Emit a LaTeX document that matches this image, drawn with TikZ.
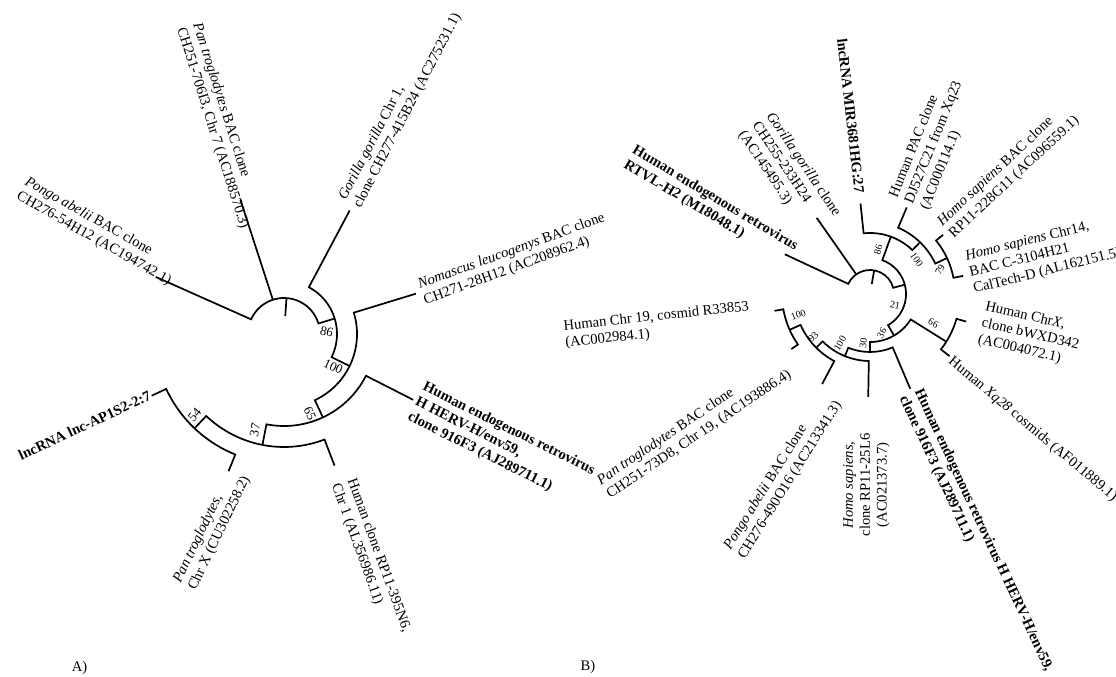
\documentclass[tikz,border=0pt]{standalone}
\usepackage{fontspec}
\setmainfont{Liberation Serif}
\newcommand\labfont{\fontsize{14.6}{16.8}\selectfont}
\newcommand\bsafont{\fontsize{13}{15}\selectfont}
\newcommand\bsbfont{\fontsize{10}{12}\selectfont}
\tikzset{
  br/.style={line width=1.7pt},
  lab/.style={font=\labfont, align=left, inner sep=0pt, anchor=west},
  blab/.style={lab, font=\labfont\bfseries},
  bsa/.style={font=\bsafont, inner sep=0pt},
  bsb/.style={font=\bsbfont, inner sep=0pt},
}
\begin{document}
\begin{tikzpicture}[x=1pt,y=1pt]
\useasboundingbox (0,0) rectangle (1116,-677);
% ---------------- Tree A ----------------
\begin{scope}[shift={(284,-334)}, br]
  \draw (156:140) coordinate (pongoA) -- (156:36) arc[start angle=156, end angle=17, radius=36] -- (17:53);
  \draw (108:36) -- (108:141) coordinate (panA7);
  \draw (86:36) -- (86:18) coordinate (rootA);
  \draw (62:140) coordinate (gorA) -- (62:53) arc[start angle=62, end angle=-26, radius=53] -- (-26:73);
  \draw (17:138) coordinate (nomA) -- (17:73) arc[start angle=17, end angle=-65, radius=73] -- (-65:92);
  \draw (-27:145) coordinate (hervA) -- (-27:92) arc[start angle=-27, end angle=-101, radius=92] -- (-101:113);
  \draw (-69:141) coordinate (humA) -- (-69:113) arc[start angle=-69, end angle=-133.5, radius=113] -- (-133.5:130);
  \draw (-112:148) coordinate (panAX) -- (-112:130) arc[start angle=-112, end angle=-155, radius=130] -- (-155:146) coordinate (lncA);
\end{scope}
\node[bsa, rotate=-15] (bA86) at (326.7,-331.7) {86};
\node[bsa, rotate=-25] (bA100) at (333.3,-366.7) {100};
\node[bsa, rotate=-65] (bA65) at (310,-413.3) {65};
\node[bsa, rotate=79] (bA37) at (255,-430) {37};
\node[bsa, rotate=50] (bA54) at (194.6,-415) {54};

\node[lab, rotate=-29.5] (tPongoA) at (21.5,-188.3) {\textit{Pongo abelii} BAC clone\\CH276-54H12 (AC194742.1)};
\node[lab, rotate=-72.3] (tPanA7) at (188.4,-25.8) {\textit{Pan troglodytes} BAC clone\\CH251-706I3, Chr 7 (AC188570.3)};
\node[lab, rotate=62.5] (tGorA) at (350,-203.3) {\textit{Gorilla gorilla} Chr 1,\\clone CH277-415B24 (AC275231.1)};
\node[lab, rotate=20] (tNomA) at (421.4,-293.3) {\textit{Nomascus leucogenys} BAC clone\\CH271-28H12 (AC208962.4)};
\node[blab, rotate=-26.5] (tHervA) at (416,-401.7) {Human endogenous retrovirus\\H HERV-H/env59,\\clone 916F3 (AJ289711.1)};
\node[lab, rotate=-70] (tHumA) at (342.9,-481.7) {Human clone RP11-395N6,\\Chr 1 (AL356986.11)};
\node[lab, rotate=64.3] (tPanAX) at (184.9,-585.8) {\textit{Pan troglodytes},\\Chr X (CU302258.2)};
\node[blab, anchor=east, rotate=25] (tLncA) at (150,-395) {lncRNA lnc-AP1S2-2:7};
\node[font=\labfont, inner sep=0pt] (labA) at (79.5,-667.5) {A)};

% ---------------- Tree B ----------------
\begin{scope}[shift={(870,-294)}, br]
  \draw (155:94) coordinate (rtvl) -- (155:24) arc[start angle=155, end angle=15, radius=24] -- (15:36);
  \draw (125:24) -- (125:93) coordinate (gorB);
  \draw (80:24) -- (80:10) coordinate (rootB);
  \draw (70:61) -- (70:36) arc[start angle=70, end angle=-60, radius=36] -- (-60:48);
  \draw (96:91) coordinate (mir) -- (96:61) arc[start angle=96, end angle=46, radius=61] -- (46:72);
  \draw (67:94) coordinate (pac) -- (67:72) arc[start angle=67, end angle=25, radius=72] -- (25:85);
  \draw (39:94) coordinate (rp228) -- (39:85) arc[start angle=39, end angle=11, radius=85] -- (11:95) coordinate (chr14);
  \draw (-32:90) -- (-32:48) arc[start angle=-32, end angle=-90, radius=48] -- (-90:58);
  \draw (-16:100) coordinate (chrX) -- (-16:90) arc[start angle=-16, end angle=-38, radius=90] -- (-38:101) coordinate (xq28);
  \draw (-67:103) coordinate (hervB) -- (-67:58) arc[start angle=-67, end angle=-112, radius=58] -- (-112:67);
  \draw (-91:103) coordinate (rp25) -- (-91:67) arc[start angle=-91, end angle=-135, radius=67] -- (-135:76);
  \draw (-118:102) coordinate (pongoB) -- (-118:76) arc[start angle=-118, end angle=-156, radius=76] -- (-156:88);
  \draw (-145:96) coordinate (panB) -- (-145:88) arc[start angle=-145, end angle=-170, radius=88] -- (-170:97) coordinate (chr19);
\end{scope}
\node[bsb, rotate=-10] (bB21) at (895,-305) {21};
\node[bsb, rotate=75] (bB86) at (878.3,-250) {86};
\node[bsb, rotate=-55] (bB100r) at (916.7,-260) {100};
\node[bsb, rotate=60] (bB79) at (940,-270) {79};
\node[bsb, rotate=-27] (bB66) at (933.3,-323.3) {66};
\node[bsb, rotate=60] (bB36) at (881.7,-333.3) {36};
\node[bsb, rotate=85] (bB30) at (863.3,-343.3) {30};
\node[bsb, rotate=60] (bB100m) at (840,-343.3) {100};
\node[bsb, rotate=45] (bB93) at (813.3,-336.7) {93};
\node[bsb, rotate=20] (bB100l) at (798.3,-315) {100};

\node[blab, rotate=-31] (tRtvl) at (629,-156.7) {Human endogenous retrovirus\\RTVL-H2 (M18048.1)};
\node[lab, rotate=-56] (tGorB) at (755,-123.3) {\textit{Gorilla gorilla} clone\\CH255-233H24\\(AC145495.3)};
\node[blab, rotate=-83.5] (tMir) at (842,-38.3) {lncRNA MIR3681HG:27};
\node[lab, rotate=68] (tPac) at (909.3,-203.3) {Human PAC clone\\DJ527C21 from Xq23\\(AC000114.1)};
\node[lab, rotate=43] (tRp228) at (945.6,-230) {\textit{Homo sapiens} BAC clone\\RP11-228G11 (AC096559.1)};
\node[lab, rotate=14] (tChr14) at (969.6,-273.3) {\textit{Homo sapiens} Chr14,\\BAC C-3104H21\\CalTech-D (AL162151.5)};
\node[lab, rotate=-13] (tChrX) at (981.7,-323.3) {Human Chr\textit{X},\\clone bWXD342\\(AC004072.1)};
\node[lab, rotate=-40] (tXq28) at (950,-360) {Human \textit{Xq28} cosmids (AF011889.1)};
\node[blab, rotate=-65] (tHervB) at (910.2,-393.3) {Human endogenous retrovirus H HERV-H/env59,\\clone 916F3 (AJ289711.1)};
\node[lab, anchor=center, align=center, rotate=90] (tRp25) at (866.5,-485) {\textit{Homo sapiens},\\clone RP11-25L6\\(AC021373.7)};
\node[lab, rotate=58] (tPongoB) at (734.6,-553.3) {\textit{Pongo abelii} BAC clone\\CH276-490O16 (AC213341.3)};
\node[lab, rotate=34] (tPanB) at (603.5,-489.2) {\textit{Pan troglodytes} BAC clone\\CH251-73D8, Chr 19, (AC193886.4)};
\node[lab, rotate=6] (tChr19) at (564.4,-335) {Human Chr 19, cosmid R33853\\(AC002984.1)};
\node[font=\labfont, inner sep=0pt] (labB) at (588,-666.5) {B)};
\end{tikzpicture}
\end{document}
